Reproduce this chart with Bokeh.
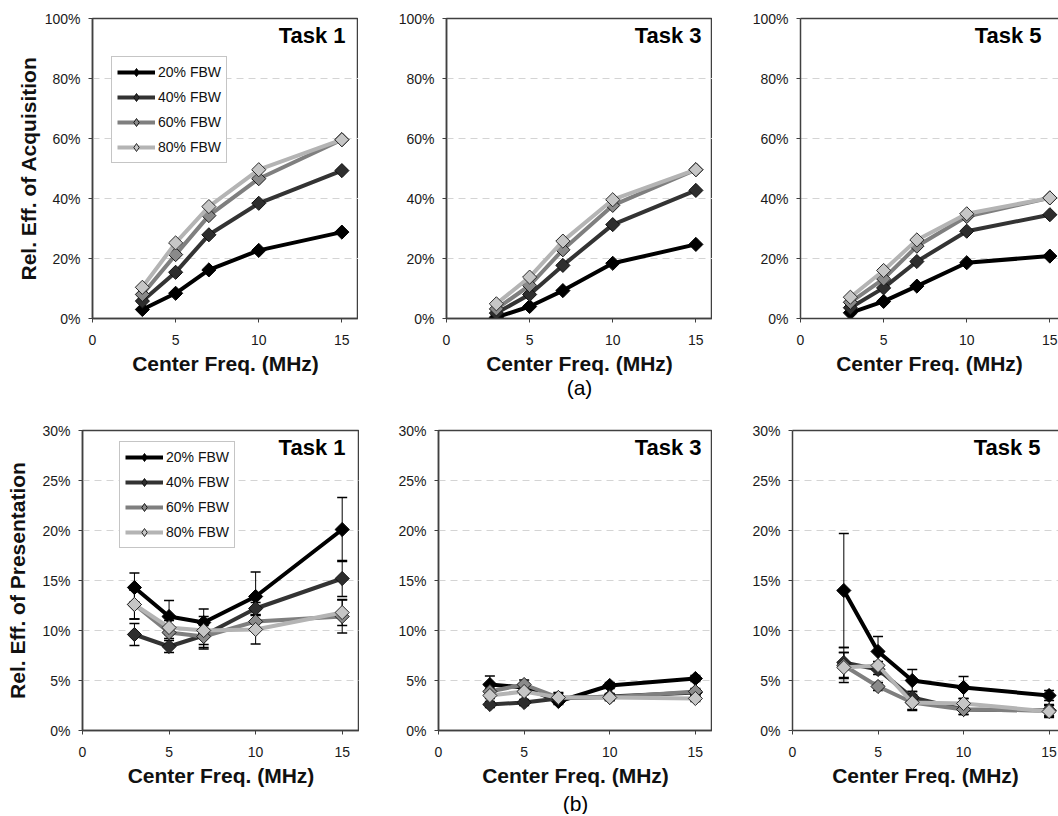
from bokeh.plotting import figure
from bokeh.layouts import column, row
from bokeh.models import (FixedTicker, LinearAxis, Legend, LegendItem, Label,
                          Whisker, TeeHead, ColumnDataSource, Range1d, Title)
from bokeh.embed import file_html
from bokeh.resources import INLINE
import math

# ---------------- data ----------------
freq = [3, 5, 7, 10, 15]
series_names = ["20% FBW", "40% FBW", "60% FBW", "80% FBW"]
x_ticks = [0, 5, 10, 15]
acq_ticks = [0, 20, 40, 60, 80, 100]
pres_ticks = [0, 5, 10, 15, 20, 25, 30]

# (a) Relative efficiency of acquisition (%)
acq_t1_20 = [3.0, 8.4, 16.2, 22.7, 28.8]
acq_t1_40 = [5.8, 15.4, 27.9, 38.4, 49.3]
acq_t1_60 = [8.0, 21.3, 34.3, 46.6, 59.6]
acq_t1_80 = [10.4, 25.2, 37.3, 49.6, 59.6]

acq_t3_20 = [0.4, 4.0, 9.3, 18.4, 24.7]
acq_t3_40 = [1.8, 8.0, 17.7, 31.3, 42.7]
acq_t3_60 = [3.2, 11.0, 22.9, 37.7, 49.6]
acq_t3_80 = [4.9, 13.8, 25.8, 39.6, 49.6]

acq_t5_20 = [1.9, 5.7, 10.8, 18.6, 20.8]
acq_t5_40 = [3.6, 10.2, 19.0, 29.1, 34.6]
acq_t5_60 = [5.4, 13.2, 24.1, 34.0, 40.2]
acq_t5_80 = [7.1, 16.0, 26.2, 34.9, 40.2]

# (b) Relative efficiency of presentation (%) with error bars
pres_t1_20 = [14.3, 11.4, 10.8, 13.4, 20.1]
pres_t1_40 = [9.6, 8.4, 9.5, 12.2, 15.2]
pres_t1_60 = [12.6, 9.8, 9.4, 10.9, 11.4]
pres_t1_80 = [12.6, 10.3, 10.0, 10.1, 11.8]
err_t1_20 = [1.45, 1.6, 1.35, 2.45, 3.2]
err_t1_40 = [1.1, 0.6, 1.35, 0.6, 1.8]
err_t1_60 = [1.45, 0.6, 1.1, 0.6, 1.65]
err_t1_80 = [1.45, 0.7, 1.4, 1.45, 1.3]

pres_t3_20 = [4.6, 4.3, 2.9, 4.5, 5.2]
pres_t3_40 = [2.6, 2.8, 3.2, 3.4, 3.8]
pres_t3_60 = [3.9, 4.6, 3.3, 3.3, 3.9]
pres_t3_80 = [3.5, 3.9, 3.3, 3.3, 3.2]
err_t3_20 = [0.85, 0.3, 0.3, 0.3, 0.3]
err_t3_40 = [0.3, 0.3, 0.3, 0.3, 0.3]
err_t3_60 = [0.3, 0.45, 0.5, 0.3, 0.3]
err_t3_80 = [0.3, 0.3, 0.4, 0.3, 0.3]

pres_t5_20 = [14.0, 7.9, 5.0, 4.3, 3.5]
pres_t5_40 = [6.8, 6.1, 3.3, 2.1, 2.0]
pres_t5_60 = [6.5, 4.4, 2.8, 2.1, 2.0]
pres_t5_80 = [6.3, 6.5, 2.8, 2.7, 1.9]
err_t5_20 = [5.7, 1.5, 1.1, 1.1, 0.5]
err_t5_40 = [1.5, 0.5, 0.6, 0.5, 0.5]
err_t5_60 = [1.3, 0.4, 0.7, 0.5, 0.6]
err_t5_80 = [1.5, 0.4, 0.8, 0.5, 0.6]

# ---------------- styles ----------------
FONT = "Liberation Sans"
line_colors = ["#000000", "#333333", "#7f7f7f", "#b4b4b4"]
fill_colors = ["#000000", "#2e2e2e", "#8a8a8a", "#c6c6c6"]
edge_colors = ["#000000", "#111111", "#1a1a1a", "#2a2a2a"]
FRAME = "#404040"


def make_panel(title, ys, errs, yticks, ymax, xmax, frame_w, left_b, bottom_b,
               top_b, title_x, title_y, ylabel=None, ylabel_standoff=0,
               legend_loc=None, cut_right=False, sub=None, sub_standoff=0):
    p = figure(frame_width=frame_w, frame_height=300,
               x_range=Range1d(0, xmax), y_range=Range1d(0, ymax),
               output_backend="svg", toolbar_location=None,
               min_border_left=left_b, min_border_right=0,
               min_border_top=top_b, min_border_bottom=bottom_b,
               background_fill_color="white", border_fill_color="white")

    p.xgrid.visible = False
    p.ygrid.grid_line_color = "#d4d4d4"
    p.ygrid.grid_line_dash = "7 5"
    p.ygrid.grid_line_width = 1

    xa = p.below[0]
    ya = p.left[0]
    for ax in (xa, ya):
        ax.axis_line_color = FRAME
        ax.axis_line_width = 1.5
        ax.major_tick_line_color = FRAME
        ax.major_tick_in = 0
        ax.major_tick_out = 4
        ax.minor_tick_line_color = None
        ax.major_label_text_font = FONT
        ax.major_label_text_font_size = "14px"
        ax.major_label_text_color = "#1a1a1a"
        ax.axis_label_text_font = FONT
        ax.axis_label_text_font_size = "21px"
        ax.axis_label_text_font_style = "bold"
        ax.axis_label_text_color = "#111111"

    xa.ticker = FixedTicker(ticks=x_ticks)
    xa.major_label_standoff = 12
    xa.axis_label = "Center Freq. (MHz)"
    xa.axis_label_standoff = 4

    ya.ticker = FixedTicker(ticks=yticks)
    ya.major_label_overrides = {t: f"{t}%" for t in yticks}
    ya.major_label_standoff = 8
    if ylabel:
        ya.axis_label = ylabel
        ya.axis_label_standoff = ylabel_standoff

    items = []
    for i, name in enumerate(series_names):
        src = ColumnDataSource(dict(x=freq, y=ys[i]))
        ln = p.line("x", "y", source=src, line_color=line_colors[i],
                    line_width=4, line_join="round")
        mk = p.scatter("x", "y", source=src, marker="square", size=10,
                       angle=math.pi / 4, fill_color=fill_colors[i],
                       line_color=edge_colors[i], line_width=1)
        if errs is not None:
            bx, up, lo = [], [], []
            for xv, yv, ev in zip(freq, ys[i], errs[i]):
                if ev > 0:
                    bx.append(xv)
                    up.append(yv + ev)
                    lo.append(yv - ev)
            wsrc = ColumnDataSource(dict(base=bx, upper=up, lower=lo))
            w = Whisker(base="base", upper="upper", lower="lower", source=wsrc,
                        line_color="black", line_width=1,
                        upper_head=TeeHead(size=10, line_color="black", line_width=1.3),
                        lower_head=TeeHead(size=10, line_color="black", line_width=1.3))
            p.add_layout(w)
        if legend_loc is not None:
            # hidden twin of the markers, used only for the diamond legend key
            key = p.scatter("x", "y", source=src, marker="diamond", size=10,
                            fill_color=fill_colors[i], line_color=edge_colors[i],
                            line_width=1, visible=False)
            items.append(LegendItem(label=name, renderers=[ln, key]))

    if legend_loc is not None:
        leg = Legend(items=items, location=legend_loc,
                     label_text_font=FONT, label_text_font_size="14px",
                     label_text_color="#111111",
                     glyph_width=38, glyph_height=20, label_height=20,
                     label_standoff=3, spacing=5, padding=5, margin=0,
                     border_line_color="#8c8c8c", border_line_width=1,
                     background_fill_color="white", background_fill_alpha=1)
        p.add_layout(leg)

    p.add_layout(Label(x=title_x, y=title_y, text=title, text_align="right",
                       text_baseline="top", text_font=FONT,
                       text_font_size="22px", text_font_style="bold",
                       text_color="#000000"))
    if sub is not None:
        p.add_layout(Title(text=sub, align="center", text_font=FONT,
                           text_font_size="21px", text_font_style="normal",
                           text_color="#000000", standoff=sub_standoff), "below")

    if cut_right:
        # the original panel is cropped at the right edge: no right border line
        p.outline_line_color = None
        top_axis = LinearAxis(ticker=FixedTicker(ticks=[]),
                              major_label_text_font_size="0px",
                              major_label_standoff=0,
                              axis_line_color=FRAME, axis_line_width=1.5,
                              major_tick_line_color=None,
                              minor_tick_line_color=None)
        p.add_layout(top_axis, "above")
    else:
        p.outline_line_color = FRAME
        p.outline_line_width = 1.5
    return p


acq = [
    [acq_t1_20, acq_t1_40, acq_t1_60, acq_t1_80],
    [acq_t3_20, acq_t3_40, acq_t3_60, acq_t3_80],
    [acq_t5_20, acq_t5_40, acq_t5_60, acq_t5_80],
]
pres = [
    [pres_t1_20, pres_t1_40, pres_t1_60, pres_t1_80],
    [pres_t3_20, pres_t3_40, pres_t3_60, pres_t3_80],
    [pres_t5_20, pres_t5_40, pres_t5_60, pres_t5_80],
]
errs = [
    [err_t1_20, err_t1_40, err_t1_60, err_t1_80],
    [err_t3_20, err_t3_40, err_t3_60, err_t3_80],
    [err_t5_20, err_t5_40, err_t5_60, err_t5_80],
]

TOP_BOTTOM = 86
BOT_TOP = 26
BOT_BOTTOM = 84

a1 = make_panel("Task 1", acq[0], None, acq_ticks, 100, 16, 266, 92, TOP_BOTTOM, 18,
                15.22, 98.4, ylabel="Rel. Eff. of Acquisition",
                ylabel_standoff=2, legend_loc=(19, 155))
a3 = make_panel("Task 3", acq[1], None, acq_ticks, 100, 16, 266, 88, TOP_BOTTOM, 18,
                15.34, 98.4, sub="(a)", sub_standoff=-8)
a5 = make_panel("Task 5", acq[2], None, acq_ticks, 100, 15.52, 258, 88, TOP_BOTTOM, 18,
                14.5, 98.4, cut_right=True)

b1 = make_panel("Task 1", pres[0], errs[0], pres_ticks, 30, 16, 277, 82, BOT_BOTTOM, BOT_TOP,
                15.19, 29.6, ylabel="Rel. Eff. of Presentation",
                ylabel_standoff=10, legend_loc=(37, 182))
b3 = make_panel("Task 3", pres[1], errs[1], pres_ticks, 30, 16, 274, 79, BOT_BOTTOM, BOT_TOP,
                15.36, 29.6, sub="(b)")
b5 = make_panel("Task 5", pres[2], errs[2], pres_ticks, 30, 15.55, 266, 80, BOT_BOTTOM, BOT_TOP,
                14.5, 29.6, cut_right=True)

layout = column(row(a1, a3, a5, spacing=0), row(b1, b3, b5, spacing=0), spacing=0)

with open("out.html", "w") as f:
    f.write(file_html(layout, INLINE))
